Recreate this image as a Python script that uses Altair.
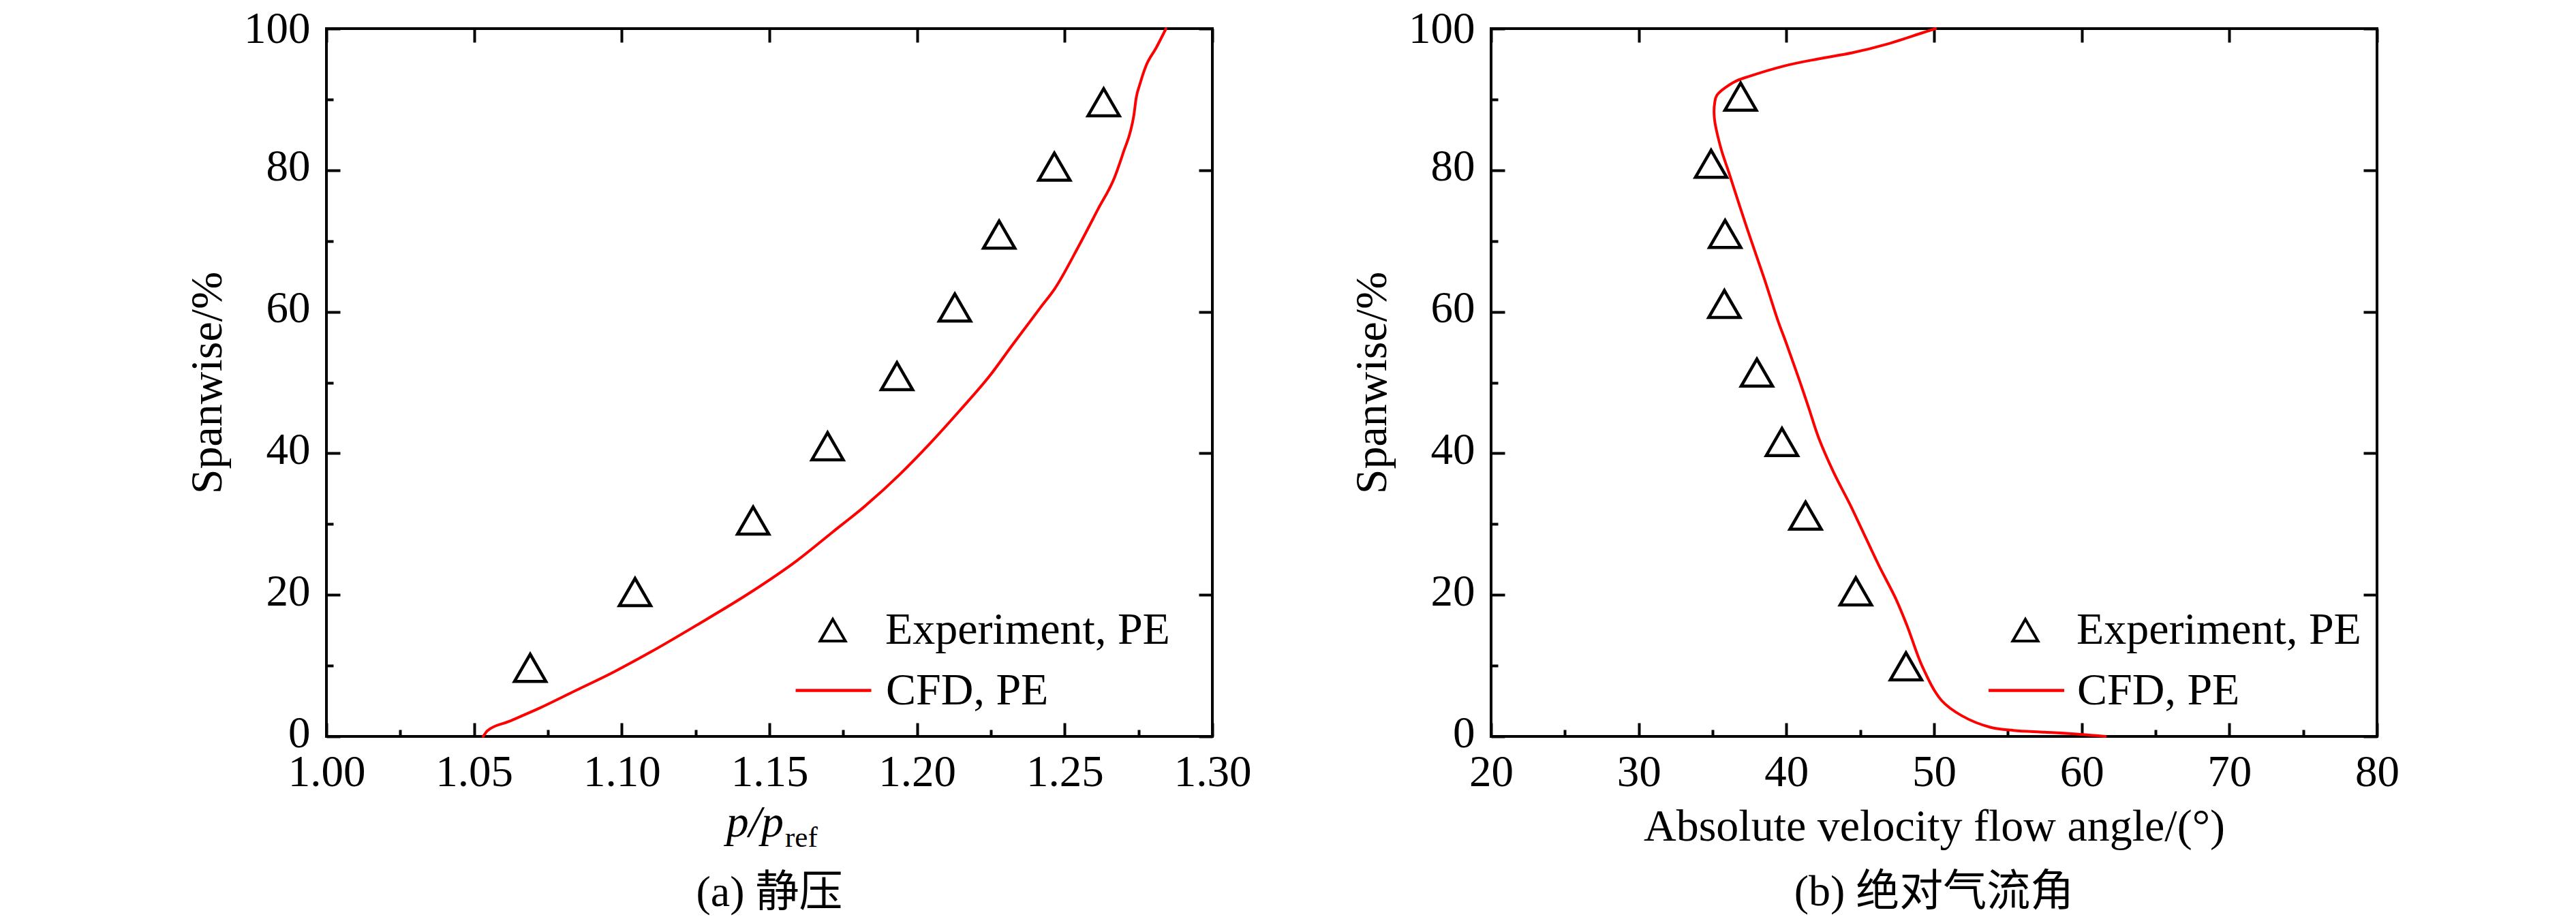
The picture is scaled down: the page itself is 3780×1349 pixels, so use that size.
import altair as alt
import pandas as pd

FONT = "Liberation Serif"
CJK_FONT = "'Liberation Serif', 'Noto Sans CJK SC'"

# ---------------- data: panel (a) static pressure ----------------
exp_a_x = [1.069, 1.1045, 1.1445, 1.1697, 1.1932, 1.2128, 1.2278, 1.2465, 1.2632]
exp_a_y = [9.7, 20.4, 30.5, 41.0, 50.9, 60.6, 70.9, 80.5, 89.6]

cfd_a_x = [1.0531, 1.0545, 1.0617, 1.0722, 1.0840, 1.0975, 1.1099, 1.1253, 1.1438, 1.1592,
           1.1715, 1.1828, 1.1941, 1.2044, 1.2146, 1.2249, 1.2321, 1.2418, 1.2467, 1.2549,
           1.2613, 1.2669, 1.2701, 1.2722, 1.2734, 1.2742, 1.2755, 1.2775, 1.2810, 1.2843]
cfd_a_y = [0.0, 0.8, 2.1, 4.0, 6.4, 9.15, 11.95, 15.7, 20.4, 24.8,
           28.9, 32.7, 37.0, 41.4, 46.1, 51.1, 55.2, 60.6, 63.3, 69.4,
           74.5, 79.0, 82.8, 85.4, 87.7, 90.2, 92.2, 94.7, 97.3, 100.0]

# ---------------- data: panel (b) absolute flow angle ----------------
exp_b_x = [48.1, 44.7, 41.3, 39.7, 38.0, 35.8, 35.85, 34.9, 36.9]
exp_b_y = [9.9, 20.5, 31.2, 41.6, 51.4, 61.1, 71.0, 80.9, 90.4]

cfd_b_x = [61.6, 59.9, 57.5, 55.4, 53.8, 51.9, 50.5, 49.2, 48.2, 47.4, 46.3, 45.3, 44.3,
           43.2, 42.2, 41.5, 40.9, 39.95, 39.45, 38.5, 37.3, 36.1, 35.55, 35.12, 35.15, 35.3,
           36.5, 37.4, 39.8, 42.1, 44.5, 46.8, 49.2, 50.1]
cfd_b_y = [0.0, 0.3, 0.6, 0.85, 1.3, 2.9, 5.1, 9.9, 15.5, 19.5, 24.0, 28.4, 32.8,
           37.3, 42.1, 46.5, 50.2, 55.8, 58.6, 64.7, 72.0, 79.7, 83.2, 87.4, 89.6, 90.6,
           92.5, 93.2, 94.7, 95.7, 96.6, 97.8, 99.4, 100.0]

# ---------------- tick values ----------------
xticks_a = [1.000, 1.025, 1.050, 1.075, 1.100, 1.125, 1.150, 1.175, 1.200, 1.225, 1.250, 1.275, 1.300]
xmajor_a = [1.00, 1.05, 1.10, 1.15, 1.20, 1.25, 1.30]
xticks_b = [20, 25, 30, 35, 40, 45, 50, 55, 60, 65, 70, 75, 80]
xmajor_b = [20, 30, 40, 50, 60, 70, 80]
yticks = [0, 10, 20, 30, 40, 50, 60, 70, 80, 90, 100]
ymajor = [0, 20, 40, 60, 80, 100]

EXP_LABEL = "Experiment, PE"
CFD_LABEL = "CFD, PE"

W, H = 1300, 1039
MAJ, MIN = 20, 10


def panel(cfd_x, cfd_y, exp_x, exp_y, xdomain, xticks, xmajor, xtest, xfmt,
          xtitle, caption, leg1, leg2, extra_layers, title_offset, interp):
    df_cfd = pd.DataFrame({"x": cfd_x, "y": cfd_y, "i": list(range(len(cfd_x))),
                           "series": [CFD_LABEL] * len(cfd_x)})
    df_exp = pd.DataFrame({"x": exp_x, "y": exp_y, "series": [EXP_LABEL] * len(exp_x)})

    xscale = alt.Scale(domain=xdomain, nice=False, zero=False)
    yscale = alt.Scale(domain=[0, 100], nice=False, zero=False)
    ytest = "datum.value % 20 == 0"

    # bottom edge: a "top" axis moved down onto the bottom edge -> ticks point inward
    bottom_kw = dict(
        orient="top", offset=-H, values=xticks, domain=False, grid=False,
        tickColor="black", tickWidth=4,
        tickSize={"condition": {"test": xtest, "value": MAJ}, "value": MIN},
        labelExpr=f"({xtest}) ? format(datum.value, '{xfmt}') : ''",
        labelPadding=-(MAJ + 21), labelBaseline="top", labelAlign="center",
        labelFont=FONT, labelFontSize=65, labelColor="black",
        labelOverlap=False, labelFlush=False, labelBound=False,
    )
    if xtitle:
        bottom_axis = alt.Axis(title=xtitle, titleFont=FONT, titleFontSize=66, titleFontWeight="normal",
                               titleColor="black", titleY=152, titleBaseline="alphabetic",
                               titleAlign="center", **bottom_kw)
    else:
        bottom_axis = alt.Axis(title=None, **bottom_kw)

    # left edge: a "right" axis moved onto the left edge -> ticks point inward
    left_axis = alt.Axis(
        orient="right", offset=-W, values=yticks, domain=False, grid=False,
        tickColor="black", tickWidth=4,
        tickSize={"condition": {"test": ytest, "value": MAJ}, "value": MIN},
        labelExpr=f"({ytest}) ? datum.label : ''",
        labelPadding=-(MAJ + 24), labelAlign="right", labelBaseline="middle",
        labelOffset={"condition": {"test": "datum.value == 100", "value": 0}, "value": -5},
        labelFont=FONT, labelFontSize=65, labelColor="black",
        labelOverlap=False, labelFlush=False, labelBound=False,
        title="Spanwise/%", titleFont=FONT, titleFontSize=66, titleFontWeight="normal",
        titleColor="black", titleAngle=270, titleX=-155, titleBaseline="alphabetic", titleAlign="center",
    )
    # top edge: a "bottom" axis moved up onto the top edge
    top_axis = alt.Axis(orient="bottom", offset=-H, values=xmajor, labels=False, title=None,
                        domain=False, grid=False, tickColor="black", tickWidth=4, tickSize=MAJ)
    # right edge: a "left" axis moved onto the right edge
    right_axis = alt.Axis(orient="left", offset=-W, values=ymajor, labels=False, title=None,
                          domain=False, grid=False, tickColor="black", tickWidth=4, tickSize=MAJ)

    line = alt.Chart(df_cfd).mark_line(strokeWidth=4, strokeCap="round", strokeJoin="round",
                                       interpolate=interp).encode(
        x=alt.X("x:Q", scale=xscale, axis=bottom_axis),
        y=alt.Y("y:Q", scale=yscale, axis=left_axis),
        order=alt.Order("i:Q"),
        color=alt.Color("series:N", scale=alt.Scale(domain=[CFD_LABEL], range=["#ff0000"]),
                        legend=alt.Legend(orient="none", legendX=leg2[0], legendY=leg2[1], title=None,
                                          padding=0, symbolType="stroke", symbolSize=12321,
                                          symbolStrokeWidth=4.5, symbolStrokeColor="#ff0000",
                                          labelFont=FONT, labelFontSize=66, labelColor="black",
                                          labelOffset=leg2[2], labelLimit=1000)),
    )

    points = alt.Chart(df_exp).mark_point(filled=False, size=2116, strokeWidth=4.5,
                                          color="black", opacity=1).encode(
        x=alt.X("x:Q", scale=xscale, axis=top_axis),
        y=alt.Y("y:Q", scale=yscale, axis=right_axis),
        shape=alt.Shape("series:N", scale=alt.Scale(domain=[EXP_LABEL], range=["triangle-up"]),
                        legend=alt.Legend(orient="none", legendX=leg1[0], legendY=leg1[1], title=None,
                                          padding=0, symbolSize=1369, symbolStrokeWidth=4,
                                          symbolStrokeColor="black", symbolFillColor="transparent",
                                          labelFont=FONT, labelFontSize=66, labelColor="black",
                                          labelOffset=leg1[2], labelLimit=1000)),
    )

    return alt.layer(line, points, *extra_layers).resolve_axis(
        x="independent", y="independent"
    ).properties(
        width=W, height=H,
        title=alt.TitleParams(text=caption, orient="bottom", anchor="middle", frame="group",
                              font=CJK_FONT, fontSize=64, fontWeight="normal", color="black",
                              offset=title_offset),
    )


# x-axis title of panel (a): p/p_ref with subscript
pp_text = alt.Chart(pd.DataFrame({"t": ["p/p"]})).mark_text(
    align="right", baseline="alphabetic", font=FONT, fontSize=66, fontStyle="italic", color="black"
).encode(text="t:N", x=alt.value(671), y=alt.value(1186))
ref_text = alt.Chart(pd.DataFrame({"t": ["ref"]})).mark_text(
    align="left", baseline="alphabetic", font=FONT, fontSize=43, color="black"
).encode(text="t:N", x=alt.value(673), y=alt.value(1201))

xtest_a = "abs(datum.value * 20 - round(datum.value * 20)) < 0.001"
xtest_b = "datum.value % 10 == 0"

panel_a = panel(cfd_a_x, cfd_a_y, exp_a_x, exp_a_y, [1.0, 1.3], xticks_a, xmajor_a, xtest_a, ".2f",
                None, "(a) 静压", (710, 850, 44), (686, 913.5, 19), [pp_text, ref_text], 27,
                "monotone")
panel_b = panel(cfd_b_x, cfd_b_y, exp_b_x, exp_b_y, [20, 80], xticks_b, xmajor_b, xtest_b, "d",
                "Absolute velocity flow angle/(°)", "(b) 绝对气流角", (751, 850, 42), (727.5, 913.5, 16.5),
                [], 32, "catmull-rom")

chart = alt.hconcat(panel_a, panel_b, spacing=140).resolve_scale(
    color="independent", shape="independent"
).properties(
    padding={"left": 261, "top": 0, "right": 10, "bottom": 4}
).configure(font=FONT, background="white").configure_view(stroke="black", strokeWidth=4)

chart.save("out.html", embed_options={"renderer": "svg", "actions": False})
